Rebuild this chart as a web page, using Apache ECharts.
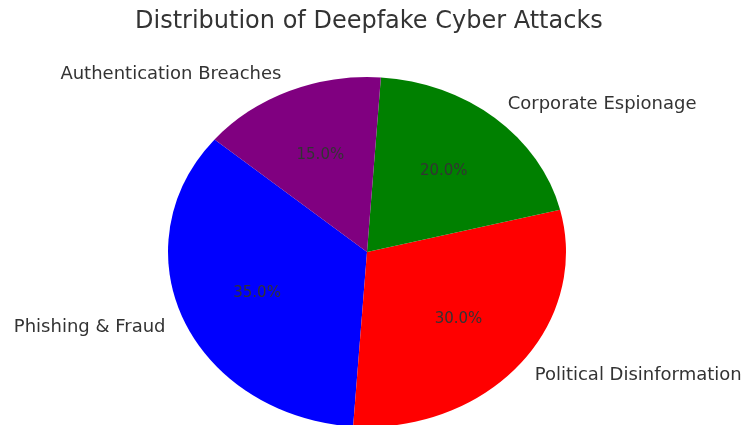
<!DOCTYPE html>
<html>
<head>
<meta charset="utf-8">
<script src="https://cdn.jsdelivr.net/npm/echarts@6/dist/echarts.min.js"></script>
<style>html,body{margin:0;padding:0;background:#fff;}#main{width:743px;height:425px;}</style>
</head>
<body>
<div id="main"></div>
<script>
var categories = ['Phishing & Fraud', 'Political Disinformation', 'Corporate Espionage', 'Authentication Breaches'];
var values = [35, 30, 20, 15];
var colors = ['#0000ff', '#ff0000', '#008000', '#800080'];
var titleText = 'Distribution of Deepfake Cyber Attacks';

var START_ANGLE = 140; // degrees, counterclockwise like matplotlib
var CX = 367, CY = 252, RX = 199, RY = 175;
var total = values.reduce(function (a, b) { return a + b; }, 0);

var chart = echarts.init(document.getElementById('main'), null, { renderer: 'canvas' });

function renderItem(params, api) {
  var idx = params.dataIndex;
  var before = 0;
  for (var i = 0; i < idx; i++) before += values[i];
  var v = api.value(0);
  var a1 = START_ANGLE + before / total * 360;
  var a2 = a1 + v / total * 360;
  var mid = (a1 + a2) / 2 * Math.PI / 180;
  var cosM = Math.cos(mid), sinM = Math.sin(mid);
  var lx = CX + 1.1 * cosM * RX, ly = CY - 1.1 * sinM * RY;
  var px = CX + 0.6 * cosM * RX, py = CY - 0.6 * sinM * RY;
  var pct = (v / total * 100).toFixed(1) + '%';
  return {
    type: 'group',
    children: [
      {
        type: 'sector',
        x: CX, y: CY,
        scaleX: RX / RY, scaleY: 1,
        shape: { cx: 0, cy: 0, r0: 0, r: RY, startAngle: -a2 * Math.PI / 180, endAngle: -a1 * Math.PI / 180, clockwise: true },
        style: { fill: colors[idx] }
      },
      {
        type: 'text',
        x: lx, y: ly,
        style: {
          text: categories[idx],
          font: '18px "DejaVu Sans"',
          fill: '#333333',
          align: cosM > 0 ? 'left' : 'right',
          verticalAlign: 'middle'
        }
      },
      {
        type: 'text',
        x: px, y: py,
        style: {
          text: pct,
          font: '15px "DejaVu Sans"',
          fill: '#333333',
          align: 'center',
          verticalAlign: 'middle'
        }
      }
    ]
  };
}

chart.setOption({
  animation: false,
  backgroundColor: '#ffffff',
  title: {
    text: titleText,
    left: 130,
    top: 5,
    textStyle: { fontFamily: 'DejaVu Sans', fontSize: 24, fontWeight: 'normal', color: '#333333' }
  },
  series: [{
    type: 'custom',
    coordinateSystem: 'none',
    renderItem: renderItem,
    data: values.map(function (v) { return [v]; })
  }]
});
</script>
</body>
</html>
